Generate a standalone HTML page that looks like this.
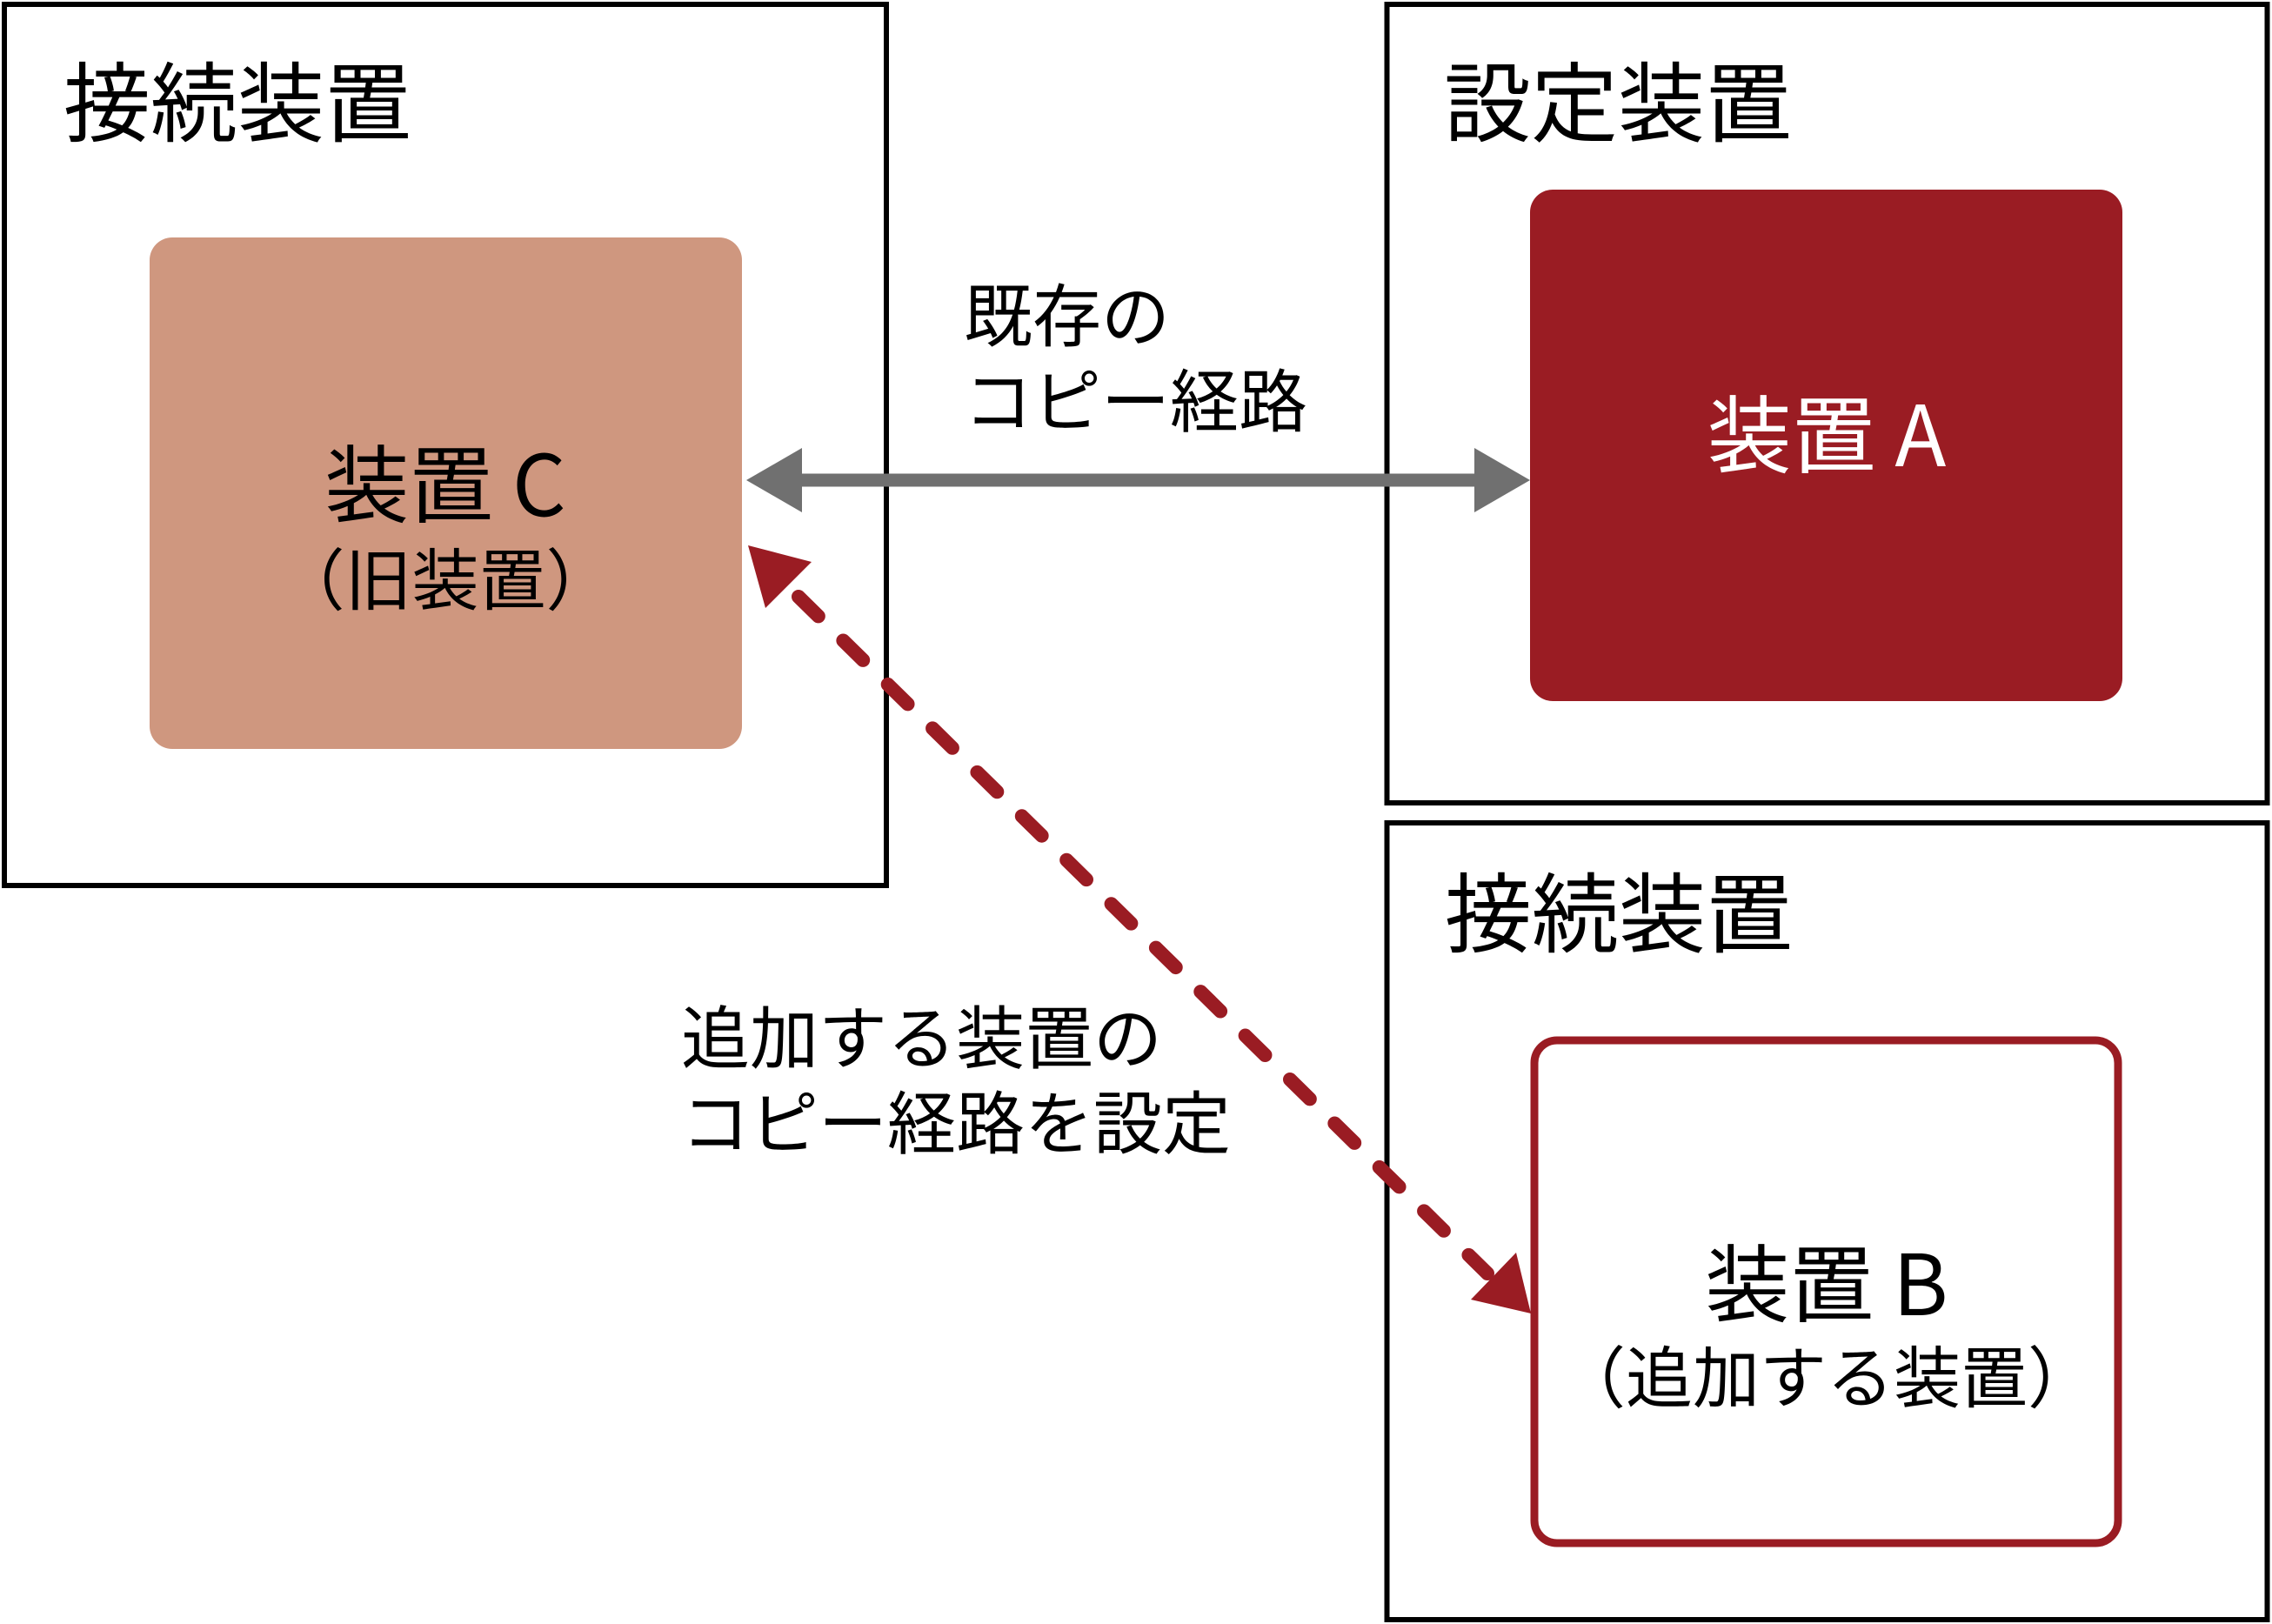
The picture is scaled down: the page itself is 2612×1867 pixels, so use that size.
<!DOCTYPE html>
<html><head><meta charset="utf-8"><style>
html,body{margin:0;padding:0;background:#fff;}
svg{display:block;}
text{font-family:"Noto Sans CJK JP","Liberation Sans",sans-serif;}
</style></head><body>
<svg width="2612" height="1867" viewBox="0 0 2612 1867" xmlns="http://www.w3.org/2000/svg">
<rect x="0" y="0" width="2612" height="1867" fill="#fff"/>
<rect x="5" y="5" width="1014" height="1013" fill="none" stroke="#000" stroke-width="6"/>
<rect x="1594.5" y="5" width="1012" height="918" fill="none" stroke="#000" stroke-width="6"/>
<rect x="1594.5" y="946" width="1012" height="916" fill="none" stroke="#000" stroke-width="6"/>
<text x="73" y="155" font-size="100">接続装置</text>
<text x="1660" y="155" font-size="100">設定装置</text>
<text x="1661" y="1087" font-size="100">接続装置</text>
<rect x="172" y="273" width="681" height="588" rx="26" fill="#cf977f"/>
<text x="512" y="593" font-size="97" text-anchor="middle">装置 C</text>
<text x="512" y="695" font-size="77" text-anchor="middle">（旧装置）</text>
<rect x="1759" y="218" width="681" height="588" rx="26" fill="#9a1c23"/>
<text x="2100" y="536" font-size="97" text-anchor="middle" fill="#fff">装置 A</text>
<rect x="1764" y="1196" width="671" height="578" rx="26" fill="#fff" stroke="#9a1c23" stroke-width="9"/>
<text x="2100" y="1512" font-size="97" text-anchor="middle">装置 B</text>
<text x="2100" y="1612" font-size="77" text-anchor="middle">（追加する装置）</text>
<line x1="915" y1="552" x2="1700" y2="552" stroke="#707070" stroke-width="15"/>
<polygon points="858,552 922,515 922,589" fill="#707070"/>
<polygon points="1759,552 1695,515 1695,589" fill="#707070"/>
<text x="1108" y="392" font-size="79">既存の</text>
<text x="1108" y="490" font-size="79">コピー経路</text>
<line x1="918" y1="686" x2="1710" y2="1464" stroke="#9a1c23" stroke-width="16" stroke-linecap="round" stroke-dasharray="32 40"/>
<polygon points="860,627 933,646 880,699" fill="#9a1c23"/>
<polygon points="1760,1510 1743,1440 1691,1494" fill="#9a1c23"/>
<text x="783" y="1222" font-size="79">追加する装置の</text>
<text x="783" y="1320" font-size="79">コピー経路を設定</text>
</svg>
</body></html>
